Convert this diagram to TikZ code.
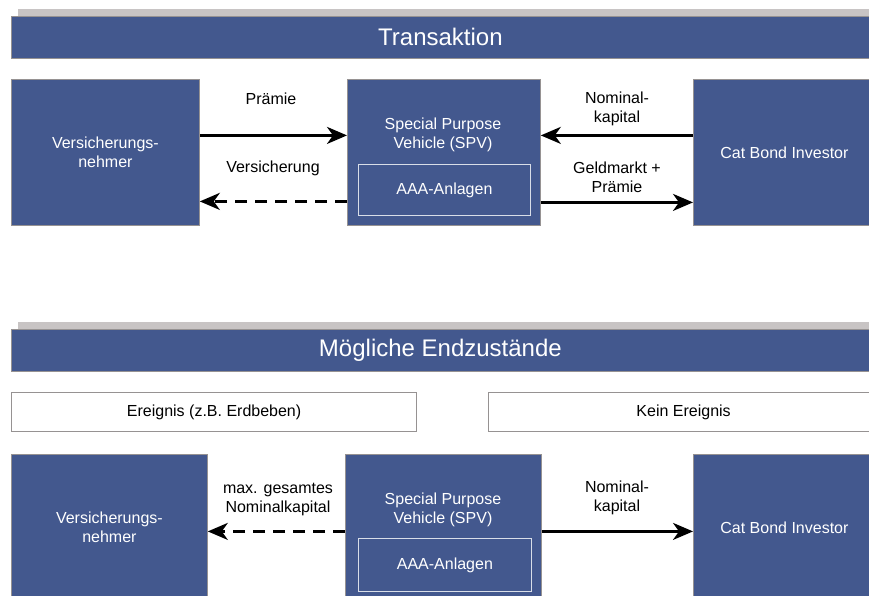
\documentclass[tikz,border=0pt]{standalone}
\usepackage{fontspec}
\setmainfont{Liberation Sans}
\usetikzlibrary{arrows.meta}
\definecolor{bandblue}{RGB}{67,88,142}
\definecolor{shadegray}{RGB}{200,196,196}
\definecolor{framegray}{RGB}{150,146,146}

\begin{document}
\begin{tikzpicture}[x=1pt,y=-1pt,
    font=\fontsize{16}{19}\selectfont,
    band/.style={fill=bandblue,draw=framegray,line width=0.8pt,inner sep=0pt,anchor=north west,
        text=white,font=\fontsize{24}{28}\selectfont},
    unit/.style={fill=bandblue,draw=framegray,line width=0.8pt,inner sep=0pt,anchor=north west,
        text=white,align=center},
    assetbox/.style={draw=white!80!bandblue,line width=0.8pt,inner sep=0pt,anchor=north west,text=white},
    eventbox/.style={fill=white,draw=framegray,line width=1.2pt,inner sep=0pt,anchor=north west},
    flow/.style={line width=2.5pt,-{Stealth[length=20pt,width=17pt,inset=6pt]}},
    flowback/.style={flow,dash pattern=on 12pt off 8pt},
    tag/.style={align=center,text=black}]
        \useasboundingbox (0,0) rectangle (869,596);
        \clip (0,0) rectangle (869,596);
        % header transaction
        \fill[shadegray] (18,9) rectangle (869,16);
        \node[band,minimum width=858pt,minimum height=42pt] (head1) at (11,16) {Transaktion};
        % boxes transaction
        \node[unit,minimum width=188pt,minimum height=146pt] (vn1) at (11,79) {Versicherungs-\\nehmer};
        \node[unit,minimum width=193pt,minimum height=146pt] (spv1) at (347,79) {};
        \node[text=white,align=center] (spvtxt1) at (443,135) {Special Purpose\\Vehicle (SPV)};
        \node[assetbox,minimum width=172pt,minimum height=51pt] (aaa1) at (358,164) {AAA-Anlagen};
        \node[unit,minimum width=182pt,minimum height=146pt] (inv1) at (693,79) {Cat Bond Investor};
        % arrows transaction
        \draw[flow] ([yshift=17pt]vn1.east) -- ([yshift=17pt]spv1.west);
        \draw[flowback] ([yshift=-49pt]spv1.west) -- ([yshift=-49pt]vn1.east);
        \draw[flow] ([yshift=17pt]inv1.west) -- ([yshift=17pt]spv1.east);
        \draw[flow] ([yshift=-50pt]spv1.east) -- ([yshift=-50pt]inv1.west);
        % text transaction
        \node[tag] (praemie) at (271,99) {Prämie};
        \node[tag] (versicherung) at (273,168) {Versicherung};
        \node[tag] (nominal1) at (617,109) {Nominal-\\kapital};
        \node[tag] (geldmarkt) at (617,177) {Geldmarkt +\\Prämie};
        % header end states
        \fill[shadegray] (18,322) rectangle (869,329);
        \node[band,minimum width=858pt,minimum height=42pt] (head2) at (11,329) {Mögliche Endzustände};
        \node[eventbox,minimum width=405pt,minimum height=39pt] (event) at (11,392) {Ereignis (z.B. Erdbeben)};
        \node[eventbox,minimum width=390pt,minimum height=39pt] (noevent) at (488,392) {Kein Ereignis};
        % boxes end states
        \node[unit,minimum width=196pt,minimum height=146pt] (vn2) at (11,454) {Versicherungs-\\nehmer};
        \node[unit,minimum width=196pt,minimum height=146pt] (spv2) at (345,454) {};
        \node[text=white,align=center] (spvtxt2) at (443,510) {Special Purpose\\Vehicle (SPV)};
        \node[assetbox,minimum width=173pt,minimum height=53pt] (aaa2) at (358,538) {AAA-Anlagen};
        \node[unit,minimum width=182pt,minimum height=146pt] (inv2) at (693,454) {Cat Bond Investor};
        % arrows end states
        \draw[flowback] ([yshift=-4pt]spv2.west) -- ([yshift=-4pt]vn2.east);
        \draw[flow] ([yshift=-4pt]spv2.east) -- ([yshift=-4pt]inv2.west);
        % text end states
        \node[tag] (maxkapital) at (278,499) {max. gesamtes\\Nominalkapital};
        \node[tag] (nominal2) at (617,498) {Nominal-\\kapital};
    \end{tikzpicture}
\end{document}
